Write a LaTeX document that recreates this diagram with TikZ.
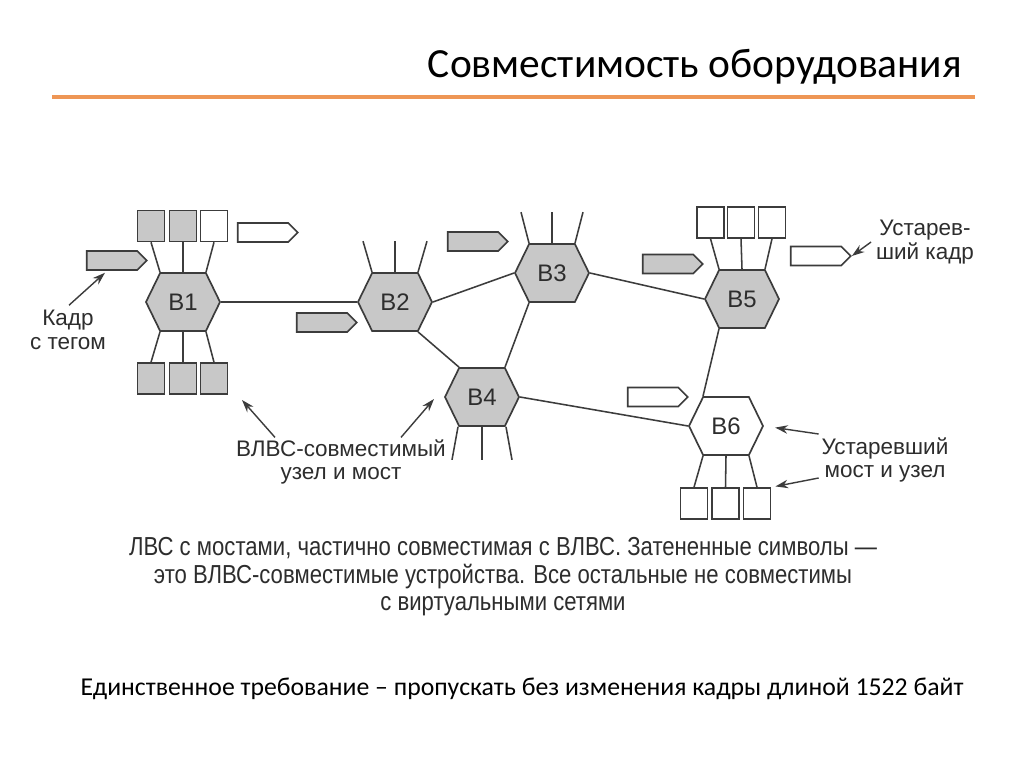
\documentclass[tikz,border=0pt]{standalone}
\usepackage{fontspec}
\setmainfont{Liberation Sans}
\newfontfamily\calib{Carlito}
\newfontfamily\narrowf[FakeStretch=0.85]{Liberation Sans}
\usetikzlibrary{shapes.symbols,arrows.meta,calc}

\definecolor{linegray}{RGB}{60,60,60}
\definecolor{shade}{RGB}{200,200,200}
\definecolor{txtgray}{RGB}{45,45,45}
\definecolor{rulecol}{RGB}{238,150,85}

\tikzset{
	bridge/.style={signal, signal to=west and east, signal pointer angle=128, draw=linegray, line width=1.2pt,
		minimum width=1.85cm, minimum height=1.45cm, inner sep=0pt, font=\fontsize{17}{17}\selectfont, text=txtgray},
	vlan/.style={fill=shade},
	old/.style={fill=white},
	host/.style={draw=linegray, line width=1.1pt, minimum width=0.675cm, minimum height=0.775cm, inner sep=0pt},
	frame/.style={signal, signal to=east, draw=linegray, line width=1.1pt, minimum width=1.5cm, minimum height=0.475cm, inner sep=0pt},
	link/.style={draw=linegray, line width=1.1pt},
	note/.style={align=center, font=\fontsize{16}{17}\selectfont, text=txtgray},
	pointer/.style={draw=linegray, line width=1pt, -{Stealth[length=9pt,width=6pt]}},
}

\begin{document}
\begin{tikzpicture}[x=0.025cm, y=-0.025cm]
	\useasboundingbox[fill=white] (0,0) rectangle (1024,767);

	% title and rule
	\node[anchor=base east, font=\calib\fontsize{29.5}{32}\selectfont] (title) at (967,78) {Совместимость оборудования};
	\draw[rulecol, line width=3pt] (52,97) -- (975,97);

	% bridges
	\node[bridge, vlan] (B1) at (183,302) {B1};
	\node[bridge, vlan] (B2) at (395,302) {B2};
	\node[bridge, vlan] (B3) at (552,273) {B3};
	\node[bridge, vlan] (B4) at (482,397) {B4};
	\node[bridge, vlan] (B5) at (742,299) {B5};
	\node[bridge, old] (B6) at (726,426) {B6};

	% hosts
	\node[host, vlan] (h1a) at (151,226) {};
	\node[host, vlan] (h1b) at (183,226) {};
	\node[host, old] (h1c) at (214,226) {};
	\node[host, vlan] (h1d) at (151,378.5) {};
	\node[host, vlan] (h1e) at (183,378.5) {};
	\node[host, vlan] (h1f) at (214,378.5) {};
	\node[host, old] (h5a) at (710.5,222.5) {};
	\node[host, old] (h5b) at (741,222.5) {};
	\node[host, old] (h5c) at (772,222.5) {};
	\node[host, old] (h6a) at (694,503.5) {};
	\node[host, old] (h6b) at (725.5,503.5) {};
	\node[host, old] (h6c) at (757,503.5) {};

	\draw[link] ($(B1.north)+(-23,0)$) -- (h1a.south);
	\draw[link] (B1.north) -- (h1b.south);
	\draw[link] ($(B1.north)+(23,0)$) -- (h1c.south);
	\draw[link] ($(B1.south)+(-23,0)$) -- (h1d.north);
	\draw[link] (B1.south) -- (h1e.north);
	\draw[link] ($(B1.south)+(23,0)$) -- (h1f.north);
	\draw[link] ($(B5.north)+(-23,0)$) -- (h5a.south);
	\draw[link] (B5.north) -- (h5b.south);
	\draw[link] ($(B5.north)+(23,0)$) -- (h5c.south);
	\draw[link] ($(B6.south)+(-23,0)$) -- (h6a.north);
	\draw[link] (B6.south) -- (h6b.north);
	\draw[link] ($(B6.south)+(23,0)$) -- (h6c.north);

	% ports going nowhere
	\draw[link] ($(B2.north)+(-23,0)$) -- ++(-9,-31);
	\draw[link] (B2.north) -- ++(0,-31);
	\draw[link] ($(B2.north)+(23,0)$) -- ++(9,-31);
	\draw[link] ($(B3.north)+(-23,0)$) -- ++(-8,-31);
	\draw[link] (B3.north) -- ++(0,-31);
	\draw[link] ($(B3.north)+(23,0)$) -- ++(8,-31);
	\draw[link] ($(B4.south)+(-24,0)$) -- ++(-6,33);
	\draw[link] (B4.south) -- ++(0,33);
	\draw[link] ($(B4.south)+(24,0)$) -- ++(6,33);

	% bridge links
	\draw[link] (B1.east) -- (B2.west);
	\draw[link] (B2.east) -- (B3.west);
	\draw[link] ($(B2.south)+(23,0)$) -- ($(B4.north)+(-23,0)$);
	\draw[link] ($(B3.south)+(-23,0)$) -- ($(B4.north)+(23,0)$);
	\draw[link] (B3.east) -- (B5.west);
	\draw[link] (B4.east) -- (B6.west);
	\draw[link] ($(B5.south)+(-23,0)$) -- ($(B6.north)+(-23,0)$);

	% frames
	\node[frame, old] (f1) at (263,232.5) {};
	\node[frame, vlan] (f2) at (112,260.5) {};
	\node[frame, vlan] (f3) at (322,322.5) {};
	\node[frame, vlan] (f4) at (473,241.5) {};
	\node[frame, vlan] (f5) at (668,264) {};
	\node[frame, old] (f6) at (816,256) {};
	\node[frame, old] (f7) at (653,397) {};

	% labels
	\node[note] (tagged) at (68,330) {Кадр\\с тегом};
	\draw[pointer] ($(tagged.north)+(1,0)$) -- ($(f2.south)+(-7,2)$);

	\node[note] (compat) at (341,462) {ВЛВС-совместимый\\узел и мост};
	\coordinate (c1) at (242,400);
	\coordinate (c2) at (434,399);
	\draw[pointer] ($(compat.north)+(-66,3)$) -- (c1);
	\draw[pointer] ($(compat.north)+(60,3)$) -- (c2);

	\node[note] (oldframe) at (925,242) {Устарев-\\ший кадр};
	\draw[pointer] (oldframe.west) -- (f6.east);

	\node[note] (oldbridge) at (885,460) {Устаревший\\мост и узел};
	\draw[pointer, shorten >=8pt] ($(oldbridge.west)+(2,-26)$) -- (B6.east);
	\draw[pointer, shorten >=3pt] ($(oldbridge.west)+(2,18)$) -- (h6c.north east);

	% caption
	\node[align=center, font=\narrowf\fontsize{18.5}{19.5}\selectfont, text=txtgray] (cap) at (503,577)
		{ЛВС с мостами, частично совместимая с ВЛВС. Затененные символы —\\это ВЛВС-совместимые устройства. Все остальные не совместимы\\с виртуальными сетями};

	\node[anchor=base, font=\calib\fontsize{18.3}{22}\selectfont] (req) at (522,695)
		{Единственное требование – пропускать без изменения кадры длиной 1522 байт};
\end{tikzpicture}
\end{document}
